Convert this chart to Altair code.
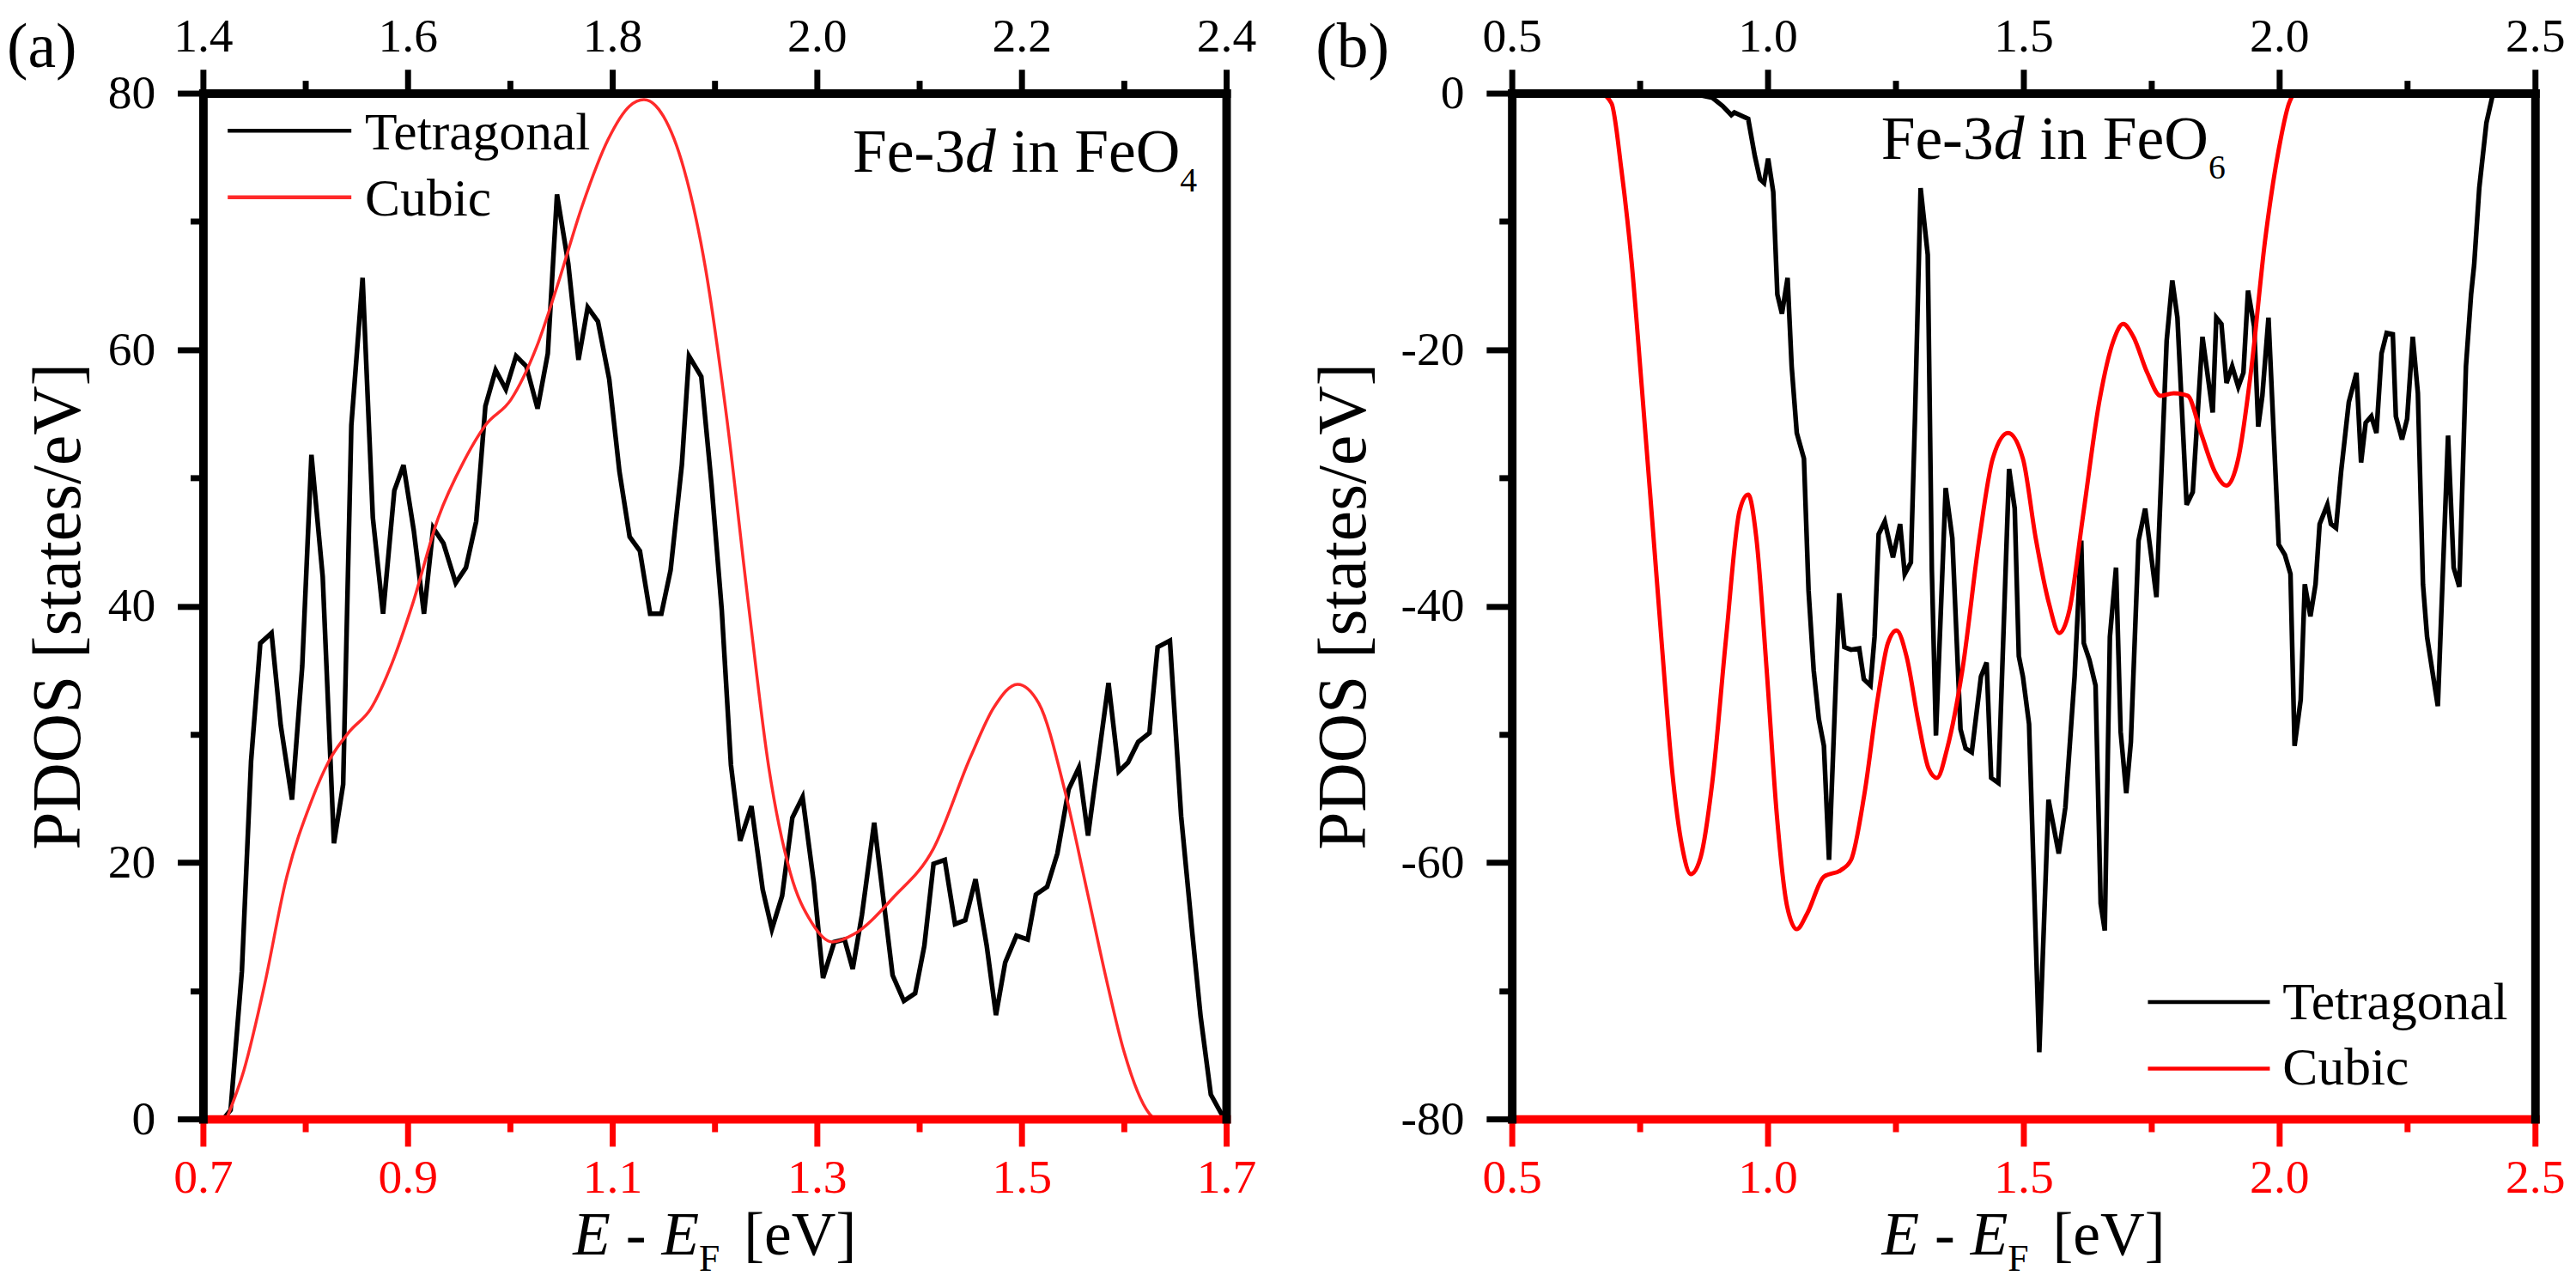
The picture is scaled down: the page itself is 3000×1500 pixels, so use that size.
import altair as alt
import pandas as pd

FONT = "'Liberation Serif', 'Times New Roman', Times, 'DejaVu Serif', serif"
RED = "#ff0000"
W, H = 1200, 1203

# ---------------- Panel (a): Fe-3d in FeO4 ----------------
a_tet_E = [1.420, 1.427, 1.438, 1.447, 1.456, 1.467, 1.476, 1.487, 1.497, 1.506,
           1.517, 1.528, 1.537, 1.545, 1.556, 1.566, 1.576, 1.587, 1.596, 1.606,
           1.616, 1.625, 1.635, 1.647, 1.657, 1.667, 1.676, 1.686, 1.696, 1.706,
           1.716, 1.727, 1.737, 1.746, 1.757, 1.767, 1.776, 1.786, 1.797, 1.807,
           1.817, 1.827, 1.837, 1.848, 1.857, 1.868, 1.875, 1.887, 1.897, 1.907,
           1.916, 1.925, 1.936, 1.947, 1.956, 1.966, 1.976, 1.986, 1.997, 2.006,
           2.017, 2.027, 2.035, 2.044, 2.056, 2.074, 2.085, 2.096, 2.105, 2.114,
           2.125, 2.135, 2.145, 2.155, 2.166, 2.175, 2.184, 2.195, 2.206, 2.214,
           2.225, 2.235, 2.246, 2.256, 2.265, 2.285, 2.295, 2.304, 2.314, 2.325,
           2.333, 2.345, 2.356, 2.367, 2.375, 2.385, 2.396, 2.400]
a_tet_P = [0.0, 0.7, 11.5, 27.9, 37.1, 37.9, 30.7, 24.9, 35.3, 51.8,
           42.3, 21.5, 26.1, 54.1, 65.6, 46.9, 39.4, 49.0, 51.0, 45.9,
           39.4, 46.1, 44.9, 41.8, 43.0, 46.6, 55.6, 58.4, 56.9, 59.5,
           58.7, 55.4, 59.7, 72.1, 66.7, 59.2, 63.3, 62.2, 57.7, 50.5,
           45.4, 44.3, 39.4, 39.4, 42.8, 51.0, 59.5, 57.9, 49.5, 39.7,
           27.6, 21.7, 24.4, 17.9, 14.8, 17.4, 23.5, 25.1, 18.4, 11.0,
           13.8, 14.0, 11.7, 15.9, 23.1, 11.2, 9.2, 9.8, 13.5, 19.9,
           20.2, 15.2, 15.5, 18.7, 13.5, 8.1, 12.2, 14.3, 14.0, 17.5,
           18.1, 20.7, 25.7, 27.4, 22.1, 34.0, 27.1, 27.8, 29.4, 30.1,
           36.8, 37.3, 23.6, 14.4, 8.0, 1.9, 0.3, 0.0]

a_cub_E = [0.723, 0.740, 0.760, 0.781, 0.806, 0.823, 0.843, 0.864, 0.885, 0.905,
           0.930, 0.955, 0.976, 1.001, 1.026, 1.046, 1.071, 1.096, 1.117, 1.131,
           1.150, 1.170, 1.191, 1.212, 1.233, 1.253, 1.274, 1.295, 1.315, 1.336,
           1.375, 1.414, 1.450, 1.473, 1.496, 1.517, 1.542, 1.564, 1.584, 1.600,
           1.625, 1.630]
a_cub_P = [0.0, 3.8, 10.4, 18.6, 24.8, 27.9, 30.2, 32.0, 35.6, 40.2,
           46.9, 51.3, 54.1, 56.1, 60.2, 64.9, 71.3, 76.4, 79.0, 79.5,
           78.2, 74.1, 66.4, 54.6, 40.2, 27.4, 19.2, 15.3, 13.8, 14.4,
           17.3, 21.1, 28.2, 32.1, 33.9, 32.4, 25.7, 17.8, 10.5, 5.3,
           0.4, 0.0]

# ---------------- Panel (b): Fe-3d in FeO6 ----------------
b_tet_E = [0.850, 0.892, 0.912, 0.929, 0.935, 0.962, 0.975, 0.985, 0.993, 1.001,
           1.011, 1.019, 1.028, 1.039, 1.047, 1.057, 1.071, 1.080, 1.090, 1.100,
           1.110, 1.120, 1.140, 1.150, 1.163, 1.179, 1.188, 1.201, 1.209, 1.217,
           1.229, 1.245, 1.259, 1.268, 1.280, 1.288, 1.299, 1.313, 1.321, 1.329,
           1.348, 1.361, 1.377, 1.387, 1.399, 1.417, 1.428, 1.437, 1.451, 1.472,
           1.483, 1.491, 1.499, 1.511, 1.531, 1.549, 1.569, 1.582, 1.600, 1.613,
           1.618, 1.629, 1.641, 1.651, 1.659, 1.669, 1.681, 1.690, 1.701, 1.710,
           1.725, 1.738, 1.760, 1.780, 1.791, 1.801, 1.819, 1.831, 1.850, 1.870,
           1.877, 1.887, 1.897, 1.908, 1.920, 1.930, 1.939, 1.951, 1.959, 1.967,
           1.979, 1.999, 2.011, 2.022, 2.030, 2.042, 2.050, 2.061, 2.071, 2.079,
           2.094, 2.101, 2.111, 2.121, 2.136, 2.151, 2.160, 2.169, 2.180, 2.190,
           2.200, 2.210, 2.222, 2.228, 2.240, 2.250, 2.261, 2.271, 2.281, 2.289,
           2.301, 2.310, 2.330, 2.341, 2.352, 2.365, 2.375, 2.381, 2.391, 2.405,
           2.418]
b_tet_P = [0.0, -0.35, -1.0, -1.7, -1.5, -2.0, -4.9, -6.7, -7.0, -5.1,
           -7.7, -15.7, -17.2, -14.4, -21.3, -26.5, -28.5, -38.8, -45.0, -48.8,
           -50.9, -59.8, -39.0, -43.2, -43.4, -43.3, -45.7, -46.2, -42.4, -34.4,
           -33.4, -36.2, -33.6, -37.5, -36.6, -25.4, -7.4, -12.6, -37.2, -50.1,
           -30.8, -34.7, -49.6, -51.1, -51.4, -45.5, -44.4, -53.4, -53.8, -29.3,
           -32.4, -43.9, -45.5, -49.2, -74.8, -55.1, -59.3, -55.7, -45.5, -34.9,
           -42.9, -44.2, -46.2, -63.2, -65.3, -42.4, -37.0, -49.8, -54.6, -50.6,
           -34.9, -32.4, -39.3, -19.3, -14.6, -17.5, -32.1, -31.1, -19.0, -24.9,
           -17.5, -18.0, -22.6, -21.3, -22.9, -21.8, -15.4, -18.2, -26.0, -23.6,
           -17.5, -35.2, -36.0, -37.5, -50.9, -47.3, -38.3, -40.8, -38.3, -33.6,
           -32.1, -33.6, -33.9, -29.5, -24.1, -21.8, -28.8, -25.7, -25.2, -26.5,
           -20.3, -18.7, -18.8, -25.2, -27.0, -25.4, -19.0, -23.4, -38.3, -42.4,
           -45.5, -47.8, -26.7, -37.0, -38.5, -21.3, -15.7, -13.4, -7.4, -2.3,
           0.0]

b_cub_E = [0.675, 0.695, 0.714, 0.734, 0.754, 0.774, 0.794, 0.813, 0.833, 0.850,
           0.869, 0.892, 0.919, 0.945, 0.962, 0.978, 0.998, 1.018, 1.038, 1.057,
           1.077, 1.110, 1.143, 1.163, 1.189, 1.216, 1.235, 1.252, 1.272, 1.295,
           1.315, 1.331, 1.351, 1.381, 1.414, 1.440, 1.470, 1.499, 1.524, 1.550,
           1.570, 1.590, 1.616, 1.649, 1.676, 1.695, 1.715, 1.742, 1.768, 1.794,
           1.821, 1.847, 1.874, 1.897, 1.920, 1.946, 1.972, 1.999, 2.019, 2.029]
b_cub_P = [0.0, -0.8, -5.9, -13.1, -22.9, -33.1, -43.4, -52.7, -58.8, -60.9,
           -59.6, -53.7, -42.4, -32.6, -31.3, -34.7, -44.9, -56.3, -63.4, -65.2,
           -64.0, -61.1, -60.6, -59.8, -54.7, -47.0, -42.9, -41.9, -44.0, -49.1,
           -52.7, -53.4, -51.1, -44.9, -34.7, -28.5, -26.5, -28.5, -34.7, -39.8,
           -42.1, -40.3, -33.1, -23.9, -19.3, -18.0, -19.0, -21.8, -23.6, -23.4,
           -23.6, -26.5, -29.5, -30.6, -28.5, -21.3, -11.6, -4.4, -0.8, 0.0]

# tick values
a_top_ticks = [1.4, 1.5, 1.6, 1.7, 1.8, 1.9, 2.0, 2.1, 2.2, 2.3, 2.4]
a_bot_ticks = [0.7, 0.8, 0.9, 1.0, 1.1, 1.2, 1.3, 1.4, 1.5, 1.6, 1.7]
b_x_ticks = [0.5, 0.75, 1.0, 1.25, 1.5, 1.75, 2.0, 2.25, 2.5]
a_y_ticks = [0, 10, 20, 30, 40, 50, 60, 70, 80]
b_y_ticks = [-80, -70, -60, -50, -40, -30, -20, -10, 0]
series_names = ["Tetragonal", "Cubic"]


def cond(test, big, small):
    return {"condition": {"test": test, "value": big}, "value": small}


def x_axis(orient, color, values, test, tick_big, pad):
    return alt.Axis(
        orient=orient, values=values, title=None, grid=False,
        domainColor=color, domainWidth=10, domainCap="square",
        tickColor=color, tickWidth=7, tickSize=cond(test, tick_big, 15),
        labelColor=color, labelFont=FONT, labelFontSize=56, labelPadding=pad,
        labelExpr=f"({test}) ? format(datum.value, '.1f') : ''",
        labelFlush=False, labelOverlap=False, zindex=1)


def y_axis_left(values, test, title_x):
    return alt.Axis(
        orient="left", values=values, grid=False,
        title="PDOS [states/eV]", titleFont=FONT, titleFontSize=80,
        titleFontWeight="normal", titleColor="black", titleX=title_x,
        titleY=H / 2, titleAngle=270, titleAlign="center", titleBaseline="middle",
        domainColor="black", domainWidth=10, domainCap="square",
        tickColor="black", tickWidth=7, tickSize=cond(test, 30, 15),
        labelColor="black", labelFont=FONT, labelFontSize=56, labelPadding=26,
        labelExpr=f"({test}) ? '' + datum.value : ''",
        labelFlush=False, labelOverlap=False, zindex=1)


def y_axis_right():
    return alt.Axis(orient="right", labels=False, ticks=False, title=None,
                    grid=False, domainColor="black", domainWidth=10,
                    domainCap="square", zindex=1)


def txt(text, x, y, size, style="normal", color="black", align="left"):
    return alt.Chart(pd.DataFrame({"t": [text]})).mark_text(
        font=FONT, fontSize=size, fontStyle=style, color=color,
        align=align, baseline="alphabetic").encode(
        x=alt.value(x), y=alt.value(y), text="t:N")


def leg_line(x1, x2, y, color, w):
    return alt.Chart(pd.DataFrame({"k": [0]})).mark_rule(
        color=color, strokeWidth=w).encode(
        x=alt.value(x1), x2=alt.value(x2), y=alt.value(y))


def formula(x0, y0, sub, f=72, fs=40, sub_dy=23):
    return [
        txt("Fe-3", x0, y0, f),
        txt("d", x0 + 1.833 * f, y0, f, style="italic"),
        txt("in FeO", x0 + 2.583 * f, y0, f),
        txt(sub, x0 + 5.333 * f, y0 + sub_dy, fs),
    ]


def xtitle(f=72, fs=44):
    total = 2.055 * f + 0.556 * fs + 0.39 * f + 1.832 * f
    x0 = W / 2 - total / 2
    y0 = 1362
    return [
        txt("E", x0, y0, f, style="italic"),
        txt("-", x0 + 0.861 * f, y0, f),
        txt("E", x0 + 1.444 * f, y0, f, style="italic"),
        txt("F", x0 + 2.055 * f, y0 + 19, fs),
        txt("[eV]", x0 + 2.055 * f + 0.556 * fs + 0.39 * f, y0, f),
    ]


def panel(tet_E, tet_P, cub_E, cub_P, tet_dom, cub_dom, y_dom,
          top_vals, top_test, bot_vals, bot_test, y_vals, y_test,
          title_x, red_w, red_col, tag, ann, legend):
    df_t = pd.DataFrame({"E": tet_E, "P": tet_P, "s": series_names[0]})
    df_c = pd.DataFrame({"E": cub_E, "P": cub_P, "s": series_names[1]})
    tet = alt.Chart(df_t).mark_line(color="black", strokeWidth=5.5).encode(
        x=alt.X("E:Q", scale=alt.Scale(domain=tet_dom, nice=False, zero=False),
                axis=x_axis("top", "black", top_vals, top_test, 28, 9)),
        y=alt.Y("P:Q", scale=alt.Scale(domain=y_dom, nice=False, zero=False),
                axis=y_axis_left(y_vals, y_test, title_x)))
    cub = alt.Chart(df_c).mark_line(color=red_col, strokeWidth=red_w,
                                    interpolate="monotone").encode(
        x=alt.X("E:Q", scale=alt.Scale(domain=cub_dom, nice=False, zero=False),
                axis=x_axis("bottom", RED, bot_vals, bot_test, 32, 10)),
        y=alt.Y("P:Q", scale=alt.Scale(domain=y_dom, nice=False, zero=False),
                axis=y_axis_right()))
    lx1, lx2, ly1, ly2, tx, ty1, ty2 = legend
    extra = [
        txt(tag, -230, -31, 74),
        leg_line(lx1, lx2, ly1, "black", 4.5),
        leg_line(lx1, lx2, ly2, red_col, 4.5),
        txt(series_names[0], tx, ty1, 62),
        txt(series_names[1], tx, ty2, 62),
    ] + formula(*ann) + xtitle()
    return alt.layer(tet, cub, *extra).resolve_scale(
        x="independent", y="independent").properties(width=W, height=H)


pa = panel(a_tet_E, a_tet_P, a_cub_E, a_cub_P, [1.4, 2.4], [0.7, 1.7], [0, 80],
           a_top_ticks, "round(datum.value * 10) % 2 == 0",
           a_bot_ticks, "round(datum.value * 10) % 2 == 1",
           a_y_ticks, "round(datum.value / 10) % 2 == 0",
           -169, 3.5, "#ff2a2a", "(a)", (762, 92, "4"),
           (29, 174, 44, 122, 190, 66, 143))

pb = panel(b_tet_E, b_tet_P, b_cub_E, b_cub_P, [0.5, 2.5], [0.5, 2.5], [-80, 0],
           b_x_ticks, "round(datum.value * 4) % 2 == 0",
           b_x_ticks, "round(datum.value * 4) % 2 == 0",
           b_y_ticks, "round(datum.value / 10) % 2 == 0",
           -196, 5, RED, "(b)", (433, 77, "6"),
           (746, 889, 1066, 1144, 904, 1086, 1163))

chart = alt.hconcat(pa, pb, spacing=64).properties(
    padding={"left": 0, "top": 2, "right": 5, "bottom": 5},
    background="white").configure_view(stroke=None)

chart.save("out.html", embed_options={"renderer": "svg", "actions": False})
